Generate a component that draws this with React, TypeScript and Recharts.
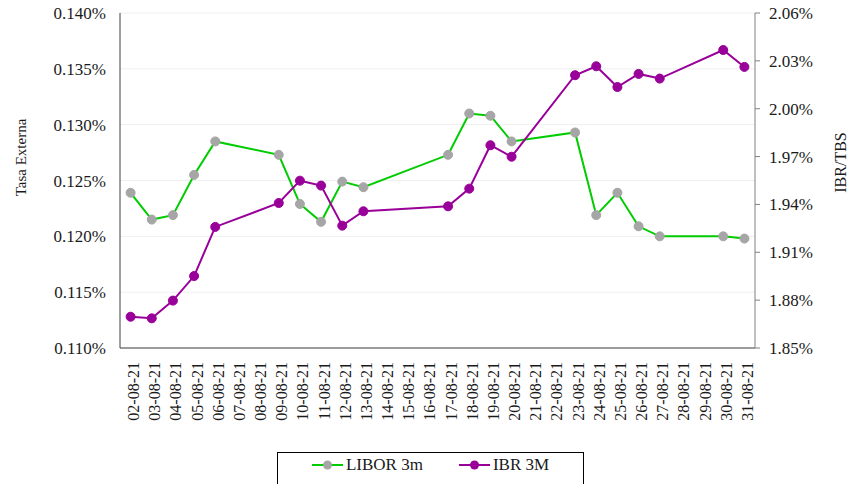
import React from 'react';
import { LineChart, Line, XAxis, YAxis, CartesianGrid, Legend } from 'recharts';

const dates = [
  '02-08-21', '03-08-21', '04-08-21', '05-08-21', '06-08-21', '07-08-21', '08-08-21', '09-08-21',
  '10-08-21', '11-08-21', '12-08-21', '13-08-21', '14-08-21', '15-08-21', '16-08-21', '17-08-21',
  '18-08-21', '19-08-21', '20-08-21', '21-08-21', '22-08-21', '23-08-21', '24-08-21', '25-08-21',
  '26-08-21', '27-08-21', '28-08-21', '29-08-21', '30-08-21', '31-08-21',
];

const libor3m: (number | null)[] = [
  0.1239, 0.1215, 0.1219, 0.1255, 0.1285, null, null, 0.1273,
  0.1229, 0.1213, 0.1249, 0.1244, null, null, null, 0.1273,
  0.1310, 0.1308, 0.1285, null, null, 0.1293, 0.1219, 0.1239,
  0.1209, 0.1200, null, null, 0.1200, 0.1198,
];

const ibr3m: (number | null)[] = [
  1.8696, 1.8686, 1.8797, 1.8951, 1.9259, null, null, 1.9409,
  1.9549, 1.9518, 1.9267, 1.9357, null, null, null, 1.9388,
  1.9499, 1.9771, 1.9699, null, null, 2.0210, 2.0266, 2.0136,
  2.0218, 2.0189, null, null, 2.0368, 2.0262,
];

const leftTicks = [0.110, 0.115, 0.120, 0.125, 0.130, 0.135, 0.140];
const rightTicks = [1.85, 1.88, 1.91, 1.94, 1.97, 2.00, 2.03, 2.06];

const seriesNames = { libor: 'LIBOR 3m', ibr: 'IBR 3M' };
const axisTitles = { left: 'Tasa Externa', right: 'IBR/TBS' };

const data = dates.map((d, i) => ({ date: d, libor: libor3m[i], ibr: ibr3m[i] }));

const FONT = 'Liberation Serif, Times New Roman, DejaVu Serif, serif';
const TEXT = '#1a1a1a';
const GREEN = '#00cc00';
const GREY = '#a6a6a6';
const PURPLE = '#990099';

const XTick = (props: any) => {
  const { x, y, payload } = props;
  const cx = x + 3;
  return (
    <text
      x={cx}
      y={y}
      transform={`rotate(-90, ${cx}, ${y})`}
      textAnchor="end"
      dominantBaseline="central"
      style={{ fontFamily: FONT }}
      fontSize={16}
      fill={TEXT}
    >
      {payload.value}
    </text>
  );
};

const LegendContent = () => {
  const items = [
    { name: seriesNames.libor, line: GREEN, dot: GREY },
    { name: seriesNames.ibr, line: PURPLE, dot: PURPLE },
  ];
  return (
    <div
      style={{
        display: 'flex',
        justifyContent: 'center',
        alignItems: 'center',
        gap: 36,
        height: '100%',
        paddingBottom: 8,
        boxSizing: 'border-box',
      }}
    >
      {items.map((it) => (
        <div key={it.name} style={{ display: 'flex', alignItems: 'center' }}>
          <svg width={31} height={12} style={{ marginRight: 3 }}>
            <line x1={0} y1={6} x2={31} y2={6} stroke={it.line} strokeWidth={2} />
            <circle cx={15.5} cy={6} r={4.5} fill={it.dot} />
          </svg>
          <span style={{ fontFamily: FONT, fontSize: 17, color: TEXT }}>{it.name}</span>
        </div>
      ))}
    </div>
  );
};

export default function App() {
  return (
    <div
      style={{
        position: 'absolute',
        left: 0,
        top: 0,
        width: 847,
        height: 484,
        overflow: 'hidden',
        background: '#fff',
        fontFamily: FONT,
      }}
    >
      <LineChart
        width={847}
        height={484}
        data={data}
        margin={{ top: 13, right: 0, bottom: 0, left: 0 }}
        style={{ fontFamily: FONT }}
      >
        <CartesianGrid yAxisId="left" vertical={false} stroke="#efefef" />
        <XAxis
          dataKey="date"
          interval={0}
          height={104}
          padding={{ left: 10.6, right: 10.6 }}
          tick={<XTick />}
          tickLine={false}
          tickSize={0}
          tickMargin={14}
          axisLine={{ stroke: '#404040' }}
        />
        <XAxis
          xAxisId="top"
          dataKey="date"
          orientation="top"
          height={0}
          tick={false}
          tickLine={false}
          padding={{ left: 10.6, right: 10.6 }}
          axisLine={{ stroke: '#595959' }}
        />
        <YAxis
          yAxisId="left"
          width={120}
          domain={[0.11, 0.14]}
          ticks={leftTicks}
          interval={0}
          tickFormatter={(v: number) => `${v.toFixed(3)}%`}
          tick={{ fontSize: 17, fill: TEXT, style: { fontFamily: FONT } }}
          tickLine={false}
          tickSize={0}
          tickMargin={14}
          axisLine={{ stroke: '#404040' }}
          label={{
            content: (p: any) => {
              const vb = p.viewBox;
              const x = vb.x + 21;
              const y = vb.y + vb.height / 2 - 23;
              return (
                <text
                  x={x}
                  y={y}
                  transform={`rotate(-90, ${x}, ${y})`}
                  textAnchor="middle"
                  dominantBaseline="central"
                  style={{ fontFamily: FONT }}
                  fontSize={15}
                  fill={TEXT}
                >
                  {axisTitles.left}
                </text>
              );
            },
          }}
        />
        <YAxis
          yAxisId="right"
          orientation="right"
          width={92}
          domain={[1.85, 2.06]}
          ticks={rightTicks}
          interval={0}
          tickFormatter={(v: number) => `${v.toFixed(2)}%`}
          tick={{ fontSize: 17, fill: TEXT, style: { fontFamily: FONT } }}
          tickLine={{ stroke: '#808080' }}
          tickSize={5}
          tickMargin={9}
          axisLine={{ stroke: '#808080' }}
          label={{
            content: (p: any) => {
              const vb = p.viewBox;
              const x = vb.x + 85;
              const y = vb.y + vb.height / 2 - 18;
              return (
                <text
                  x={x}
                  y={y}
                  transform={`rotate(-90, ${x}, ${y})`}
                  textAnchor="middle"
                  dominantBaseline="central"
                  style={{ fontFamily: FONT }}
                  fontSize={16}
                  fill={TEXT}
                >
                  {axisTitles.right}
                </text>
              );
            },
          }}
        />
        <Legend
          verticalAlign="bottom"
          content={<LegendContent />}
          wrapperStyle={{
            position: 'absolute',
            left: 277,
            top: 452,
            width: 307,
            height: 32,
            borderTop: '1px solid #000',
            borderLeft: '1px solid #000',
            borderRight: '1px solid #000',
            boxSizing: 'border-box',
          }}
        />
        <Line
          yAxisId="left"
          dataKey="libor"
          name={seriesNames.libor}
          stroke={GREEN}
          strokeWidth={2}
          connectNulls
          dot={{ r: 4.5, fill: GREY, stroke: GREY, strokeWidth: 1 }}
          activeDot={false}
          isAnimationActive={false}
        />
        <Line
          yAxisId="right"
          dataKey="ibr"
          name={seriesNames.ibr}
          stroke={PURPLE}
          strokeWidth={2}
          connectNulls
          dot={{ r: 4.5, fill: PURPLE, stroke: PURPLE, strokeWidth: 1 }}
          activeDot={false}
          isAnimationActive={false}
        />
      </LineChart>
    </div>
  );
}
